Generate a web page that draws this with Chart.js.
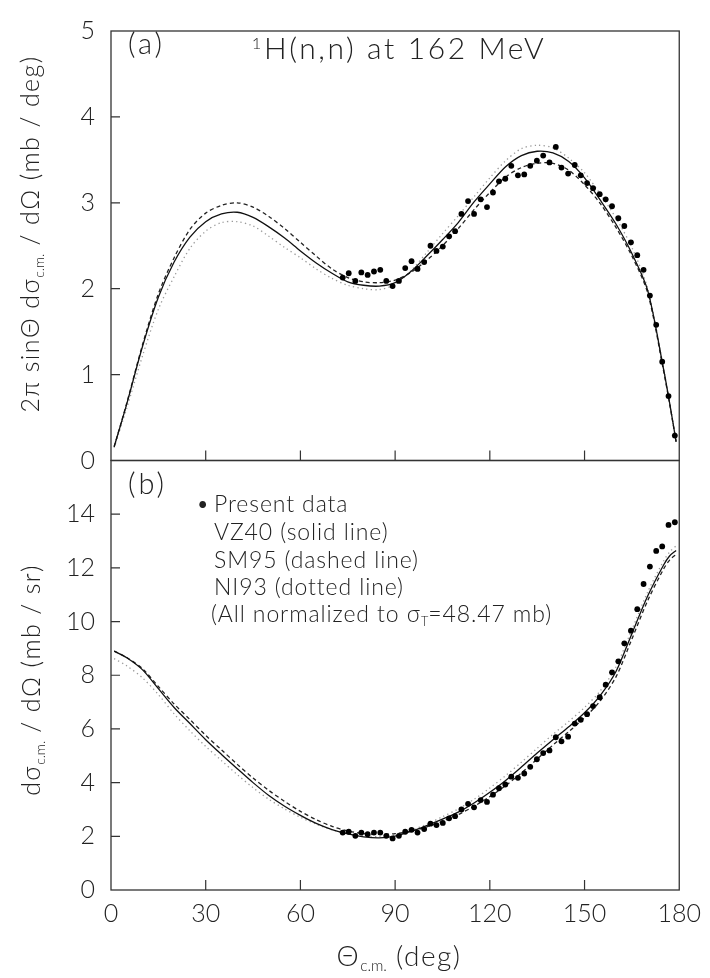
<!DOCTYPE html>
<html><head><meta charset="utf-8">
<script src="https://cdn.jsdelivr.net/npm/chart.js@4.4.1/dist/chart.umd.min.js"></script>
<style>
html,body{margin:0;padding:0;background:#fff;}
#wrap{position:relative;width:710px;height:978px;overflow:hidden;background:#fff;}
canvas{position:absolute;left:0;top:0;}
.t{position:absolute;font-family:Lato,'Open Sans','DejaVu Sans',sans-serif;font-weight:300;color:#222;white-space:nowrap;line-height:1;}
.rot{transform:translate(-50%,-50%) rotate(-90deg);}
.ctr{transform:translate(-50%,-50%);}
.lft{transform:translateY(-50%);}
.sb{font-size:55%;position:relative;top:0.35em;letter-spacing:0;}
.sp{font-size:55%;position:relative;top:-0.6em;}
.lg{font-size:23px;letter-spacing:0.9px;}
</style></head>
<body><div id="wrap"><canvas id="c" width="710" height="978"></canvas>
<div class="t lft" style="left:128px;top:42px;font-size:29px;letter-spacing:3px;">(a)</div>
<div class="t ctr" style="left:399px;top:47px;font-size:30px;letter-spacing:2.6px;"><span class="sp">1</span>H(n,n) at 162 MeV</div>
<div class="t lft" style="left:128px;top:482px;font-size:29px;letter-spacing:3px;">(b)</div>
<div class="t lft lg" style="left:196px;top:503px;">&#8226;</div>
<div class="t lft lg" style="left:214px;top:503px;">Present data</div>
<div class="t lft lg" style="left:214px;top:531px;">VZ40 (solid line)</div>
<div class="t lft lg" style="left:214px;top:559px;">SM95 (dashed line)</div>
<div class="t lft lg" style="left:214px;top:586px;">NI93 (dotted line)</div>
<div class="t lft lg" style="left:211px;top:613px;">(All normalized to &#963;<span class="sb">T</span>=48.47 mb)</div>
<div class="t rot" style="left:29px;top:234px;font-size:25px;letter-spacing:1.4px;">2&#960; sin&#920; d&#963;<span class="sb">c.m.</span> / d&#937; (mb / deg)</div>
<div class="t rot" style="left:30px;top:680px;font-size:25px;letter-spacing:1.4px;">d&#963;<span class="sb">c.m.</span> / d&#937; (mb / sr)</div>
<div class="t ctr" style="left:399px;top:955px;font-size:28px;letter-spacing:1.5px;">&#920;<span class="sb">c.m.</span> (deg)</div>
</div>
<script>
// ---- measured data (Present data) ----
const dataAngles = [73.4,75.3,77.4,79.3,81.3,83.3,85.3,87.2,89.2,91.2,93.2,95.2,97.1,99.2,101.2,103.1,105.1,107.1,109.0,111.0,113.1,115.0,117.1,119.1,121.0,122.9,124.9,126.8,128.9,130.9,132.8,134.9,136.9,138.9,140.9,142.7,144.8,146.9,148.8,150.8,152.7,154.8,156.7,158.7,160.7,162.6,164.7,166.7,168.7,170.7,172.7,174.6,176.6,178.6];
const topData = [2.13,2.18,2.09,2.19,2.16,2.20,2.22,2.09,2.03,2.09,2.24,2.32,2.23,2.31,2.50,2.44,2.49,2.61,2.67,2.87,3.02,2.87,3.04,2.95,3.12,3.25,3.28,3.43,3.32,3.33,3.43,3.49,3.55,3.47,3.65,3.41,3.34,3.44,3.32,3.23,3.17,3.10,3.04,2.96,2.82,2.73,2.54,2.39,2.22,1.92,1.58,1.15,0.75,0.29];
const botData = [2.14,2.17,2.02,2.14,2.08,2.14,2.14,2.02,1.92,2.02,2.17,2.24,2.14,2.27,2.47,2.42,2.50,2.67,2.75,3.00,3.21,3.08,3.35,3.28,3.55,3.79,3.93,4.22,4.18,4.34,4.59,4.87,5.10,5.20,5.69,5.54,5.71,6.20,6.34,6.55,6.85,7.18,7.65,8.11,8.52,9.19,9.66,10.46,11.40,12.05,12.63,12.80,13.60,13.70];

// ---- phase-shift analyses ----
const curveAngles = [1,5,10,15,20,25,30,35,40,45,50,55,60,65,70,75,80,85,90,95,100,105,110,115,120,125,130,135,140,145,150,155,160,165,170,175,177,179];
const topVZ40 = [0.16,0.66,1.33,1.90,2.31,2.60,2.78,2.87,2.89,2.83,2.72,2.59,2.44,2.30,2.18,2.08,2.04,2.03,2.07,2.20,2.38,2.57,2.77,3.01,3.22,3.42,3.55,3.60,3.58,3.48,3.29,3.03,2.75,2.41,1.98,1.07,0.66,0.22];
const topSM95 = [0.16,0.67,1.35,1.94,2.36,2.69,2.88,2.97,3.00,2.95,2.84,2.70,2.54,2.38,2.23,2.13,2.08,2.07,2.10,2.19,2.33,2.50,2.70,2.92,3.12,3.30,3.41,3.46,3.46,3.38,3.21,2.99,2.71,2.38,1.95,1.05,0.65,0.22];
const topNI93 = [0.15,0.61,1.22,1.76,2.14,2.47,2.67,2.77,2.78,2.73,2.61,2.48,2.36,2.23,2.12,2.04,2.00,1.99,2.05,2.21,2.42,2.64,2.85,3.07,3.29,3.49,3.63,3.67,3.64,3.52,3.35,3.10,2.82,2.48,2.00,1.08,0.66,0.22];
const botVZ40 = [8.90,8.65,8.20,7.50,6.80,6.20,5.60,5.05,4.52,4.00,3.52,3.12,2.78,2.48,2.25,2.09,1.98,1.94,2.01,2.18,2.40,2.64,2.90,3.24,3.64,4.08,4.58,5.10,5.60,6.08,6.60,7.25,8.15,9.55,10.95,12.10,12.45,12.65];
const botSM95 = [8.90,8.66,8.24,7.58,6.93,6.35,5.76,5.22,4.68,4.17,3.71,3.30,2.93,2.62,2.37,2.20,2.10,2.07,2.10,2.19,2.35,2.56,2.81,3.12,3.48,3.89,4.36,4.88,5.40,5.90,6.42,7.05,7.95,9.35,10.78,11.95,12.30,12.50];
const botNI93 = [8.62,8.35,7.90,7.28,6.56,5.93,5.35,4.82,4.30,3.81,3.38,3.02,2.71,2.45,2.24,2.10,2.02,1.99,2.05,2.22,2.45,2.73,3.02,3.38,3.80,4.26,4.76,5.28,5.80,6.28,6.80,7.42,8.32,9.70,11.10,12.25,12.60,12.82];

// ---- axes ----
const xTicks = [0,30,60,90,120,150,180];
const topYTicks = [0,1,2,3,4,5];
const botYTicks = [0,2,4,6,8,10,12,14,16];

const pts = (xs, ys) => xs.map((x, i) => ({x: x, y: ys[i]}));
const FONT = {family: "Lato, 'Open Sans', 'DejaVu Sans', sans-serif", size: 25, weight: '300'};
const INK = '#222';

function curve(label, ys, axis, style) {
  return Object.assign({
    label: label, data: pts(curveAngles, ys), yAxisID: axis, showLine: true,
    pointRadius: 0, pointHoverRadius: 0, fill: false, tension: 0.3
  }, style);
}
const solid = {borderColor: '#111', borderWidth: 1.3};
const dashed = {borderColor: '#222', borderWidth: 1.3, borderDash: [4, 3]};
const dotted = {borderColor: '#9a9a9a', borderWidth: 1.3, borderDash: [1.3, 3.2]};
function dots(label, ys, axis) {
  return {label: label, data: pts(dataAngles, ys), yAxisID: axis, showLine: false,
    pointRadius: 2.9, pointHoverRadius: 2.9, pointBackgroundColor: '#000', pointBorderWidth: 0, borderColor: '#000'};
}

const framePlugin = {
  id: 'frame',
  afterDraw(chart) {
    const ctx = chart.ctx, x = chart.scales.x, yt = chart.scales.yTop, yb = chart.scales.yBot;
    ctx.save();
    ctx.strokeStyle = '#333';
    ctx.lineWidth = 1.3;
    [yt, yb].forEach(ys => ctx.strokeRect(x.left, ys.top, x.right - x.left, ys.bottom - ys.top));
    ctx.lineWidth = 1.2;
    ctx.beginPath();
    [yt, yb].forEach(ys => {
      xTicks.slice(1, -1).forEach(v => {
        const px = x.getPixelForValue(v);
        ctx.moveTo(px, ys.bottom); ctx.lineTo(px, ys.bottom - 10);
      });
    });
    topYTicks.slice(1, -1).forEach(v => {
      const py = yt.getPixelForValue(v);
      ctx.moveTo(x.left, py); ctx.lineTo(x.left + 9, py);
    });
    botYTicks.slice(1, -1).forEach(v => {
      const py = yb.getPixelForValue(v);
      ctx.moveTo(x.left, py); ctx.lineTo(x.left + 9, py);
    });
    ctx.stroke();
    ctx.restore();
  }
};

new Chart(document.getElementById('c'), {
  type: 'scatter',
  data: {
    datasets: [
      dots('Present data (a)', topData, 'yTop'),
      curve('VZ40 (a)', topVZ40, 'yTop', solid),
      curve('SM95 (a)', topSM95, 'yTop', dashed),
      curve('NI93 (a)', topNI93, 'yTop', dotted),
      dots('Present data (b)', botData, 'yBot'),
      curve('VZ40 (b)', botVZ40, 'yBot', solid),
      curve('SM95 (b)', botSM95, 'yBot', dashed),
      curve('NI93 (b)', botNI93, 'yBot', dotted)
    ]
  },
  options: {
    responsive: false, animation: false, devicePixelRatio: 1,
    layout: {padding: {left: 0, right: 27, top: 17, bottom: 0}},
    plugins: {legend: {display: false}, tooltip: {enabled: false}, title: {display: false}},
    scales: {
      x: {
        type: 'linear', position: 'bottom', min: 0, max: 180,
        afterBuildTicks: s => { s.ticks = xTicks.map(v => ({value: v})); },
        ticks: {font: FONT, color: INK, padding: 9, maxRotation: 0, autoSkip: false},
        grid: {display: false, drawTicks: false}, border: {display: false},
        afterFit: s => { s.height = 88; }
      },
      yBot: {
        type: 'linear', position: 'left', stack: 'panels', stackWeight: 1, min: 0, max: 16,
        afterBuildTicks: s => { s.ticks = botYTicks.map(v => ({value: v})); },
        ticks: {font: FONT, color: INK, padding: 16, autoSkip: false, callback: v => (v === 16 ? '' : v)},
        grid: {display: false, drawTicks: false}, border: {display: false},
        afterFit: s => { s.width = 111; }
      },
      yTop: {
        type: 'linear', position: 'left', stack: 'panels', stackWeight: 1, min: 0, max: 5,
        afterBuildTicks: s => { s.ticks = topYTicks.map(v => ({value: v})); },
        ticks: {font: FONT, color: INK, padding: 16, autoSkip: false},
        grid: {display: false, drawTicks: false}, border: {display: false},
        afterFit: s => { s.width = 111; }
      }
    }
  },
  plugins: [framePlugin]
});
</script>
</body></html>
